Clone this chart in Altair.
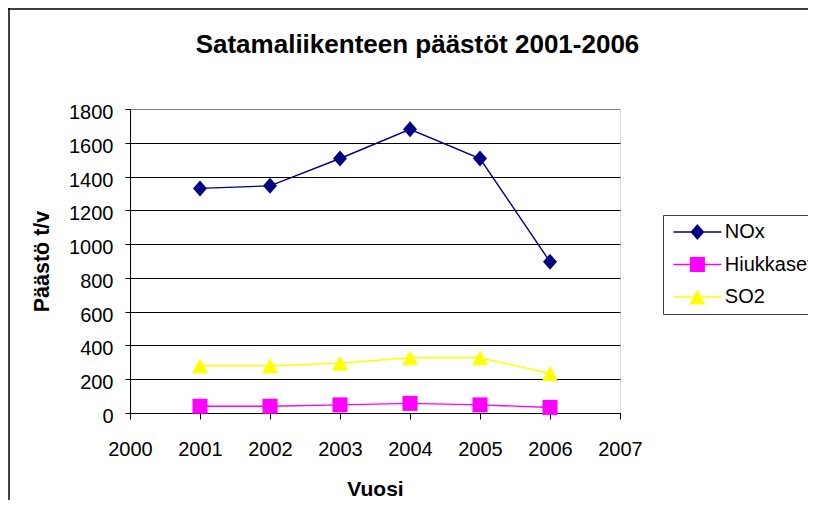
import altair as alt
import pandas as pd

# ---- data ----
years = [2001, 2002, 2003, 2004, 2005, 2006]
nox = [1330, 1345, 1507, 1680, 1507, 895]
hiukkaset = [40, 40, 48, 57, 48, 33]
so2 = [280, 280, 295, 327, 327, 234]

series_names = ["NOx", "Hiukkaset", "SO2"]
series_colors = ["#000080", "#FF00FF", "#FFFF00"]
x_ticks = [2000, 2001, 2002, 2003, 2004, 2005, 2006, 2007]
y_ticks = [0, 200, 400, 600, 800, 1000, 1200, 1400, 1600, 1800]

rows = []
for name, vals in zip(series_names, [nox, hiukkaset, so2]):
    for yr, v in zip(years, vals):
        rows.append({"Vuosi": yr, "value": v, "series": name})
df = pd.DataFrame(rows)

FONT = "Liberation Sans"
W, H = 490, 304
PAD = {"left": 122, "top": 101, "right": 188, "bottom": 87}

# marker shapes (size 256 -> 1 unit = 8 px)
plot_shapes = [
    "M-0.875,0L0,-1L0.875,0L0,1Z",
    "M-0.94,-0.94H0.94V0.94H-0.94Z",
    "M0,-0.94L1,0.94L-1,0.94Z",
]
line_seg = "M-3,-0.08H3V0.08H-3Z"
legend_shapes = [line_seg + s for s in plot_shapes]

x_enc = alt.X(
    "Vuosi:Q",
    scale=alt.Scale(domain=[2000, 2007], nice=False, zero=False),
    axis=alt.Axis(
        values=x_ticks, format="d", grid=False, labelFlush=False,
        labelFont=FONT, labelFontSize=20, labelColor="black",
        labelBaseline="alphabetic", labelPadding=36,
        tickSize=6, tickColor="black", domainColor="black",
        title="Vuosi", titleFont=FONT, titleFontSize=21, titleFontWeight="bold",
        titleColor="black", titleX=W / 2, titleY=82, titleBaseline="alphabetic",
        titleAlign="center",
    ),
)
y_enc = alt.Y(
    "value:Q",
    scale=alt.Scale(domain=[0, 1800], nice=False),
    axis=alt.Axis(
        values=y_ticks, format="d", grid=True, labelFlush=False,
        gridColor={"condition": {"test": "datum.value === 1800", "value": "#808080"}, "value": "black"},
        gridWidth=1,
        labelFont=FONT, labelFontSize=20, labelColor="black",
        labelBaseline="alphabetic", labelOffset=9.5, labelPadding=12,
        tickSize=5, tickColor="black", domainColor="black",
        title="Päästö t/v", titleFont=FONT, titleFontSize=21.5, titleFontWeight="bold",
        titleColor="black", titleAngle=270, titleX=-82, titleY=H / 2,
        titleBaseline="alphabetic", titleAlign="center",
    ),
)

base = alt.Chart(df)

lines = base.mark_line(strokeWidth=1.4).encode(
    x=x_enc, y=y_enc,
    color=alt.Color("series:N", scale=alt.Scale(domain=series_names, range=series_colors), legend=None),
    detail="series:N",
)

points = base.mark_point(filled=True, size=256, opacity=1, strokeWidth=0).encode(
    x=x_enc, y=y_enc,
    color=alt.Color("series:N", scale=alt.Scale(domain=series_names, range=series_colors), legend=None),
    shape=alt.Shape("series:N", scale=alt.Scale(domain=series_names, range=plot_shapes), legend=None),
)

leg_props = dict(
    title=None, orient="none", legendX=533, legendY=106,
    padding=7, rowPadding=12.5, symbolSize=256, symbolStrokeWidth=0,
    symbolOpacity=1, symbolOffset=17.4, labelOffset=17.4,
    labelFont=FONT, labelFontSize=20, labelColor="black",
    strokeColor="#404040", fillColor="white", labelLimit=300,
)
legend_layer = base.mark_point(filled=True, size=256, opacity=0).encode(
    x=x_enc, y=y_enc,
    color=alt.Color("series:N", scale=alt.Scale(domain=series_names, range=series_colors),
                    legend=alt.Legend(**leg_props)),
    shape=alt.Shape("series:N", scale=alt.Scale(domain=series_names, range=legend_shapes),
                    legend=alt.Legend(**leg_props)),
)

frame_df = pd.DataFrame({"f": [0]})
frame_left = alt.Chart(frame_df).mark_rule(color="black", strokeWidth=1.5).encode(
    x=alt.value(-PAD["left"] + 1), y=alt.value(-PAD["top"]), y2=alt.value(H + PAD["bottom"])
)
frame_top = alt.Chart(frame_df).mark_rule(color="black", strokeWidth=1.5).encode(
    y=alt.value(-PAD["top"] + 1), x=alt.value(-PAD["left"]), x2=alt.value(W + PAD["right"])
)

chart = alt.layer(lines, points, legend_layer, frame_left, frame_top).resolve_scale(
    color="independent", shape="independent"
).properties(
    width=W, height=H,
    title=alt.TitleParams(
        "Satamaliikenteen päästöt 2001-2006",
        font=FONT, fontSize=26, fontWeight="bold", color="black",
        anchor="middle", frame="group", baseline="alphabetic", offset=-72, dx=42.5,
    ),
    autosize=alt.AutoSizeParams(type="none"),
    padding=PAD,
).configure_view(stroke="#808080", strokeWidth=1).configure(background="white")

chart.save("out.html", embed_options={"renderer": "svg", "actions": False})
